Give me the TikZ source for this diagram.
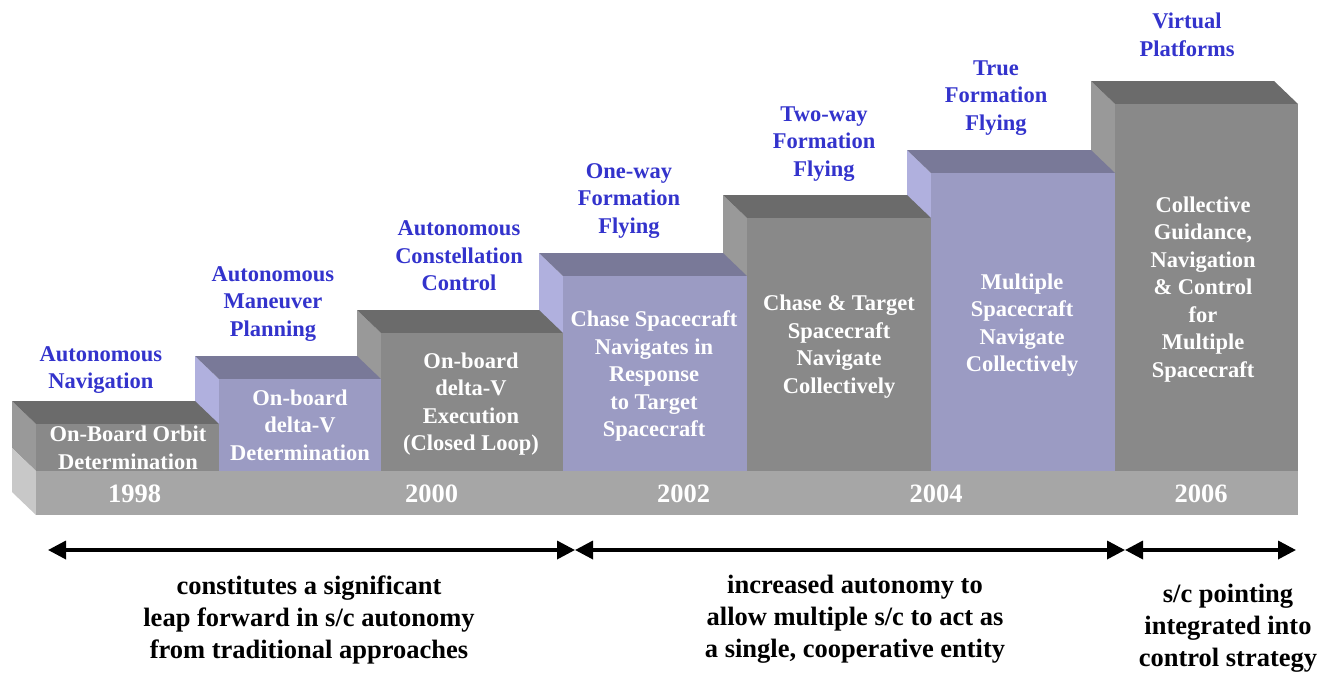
\documentclass[tikz,border=0pt]{standalone}
\usepackage{fontspec}
\setmainfont{Liberation Serif}
\usetikzlibrary{arrows.meta}

\definecolor{grayfront}{RGB}{137,137,137}
\definecolor{graytop}{RGB}{107,107,107}
\definecolor{grayside}{RGB}{153,153,153}
\definecolor{purpfront}{RGB}{155,155,195}
\definecolor{purptop}{RGB}{121,121,152}
\definecolor{purpside}{RGB}{176,176,222}
\definecolor{basefront}{RGB}{166,166,166}
\definecolor{baseside}{RGB}{200,200,200}
\definecolor{labelblue}{RGB}{51,51,204}

% one 3-D step: left x, right x, top y of the front face, then front/top/side colours
\newcommand\stepblock[6]{%
  \fill[#6] (#1-24,#3-23) -- (#1,#3) -- (#1,471) -- (#1-24,448) -- cycle;
  \fill[#5] (#1-24,#3-23) -- (#2-24,#3-23) -- (#2,#3) -- (#1,#3) -- cycle;
  \fill[#4] (#1,#3) rectangle (#2,471);
}

\tikzset{
  milestone/.style={inner sep=0pt, align=center, text=labelblue,
    font=\bfseries\fontsize{22.5}{27.5}\selectfont},
  capability/.style={inner sep=0pt, align=center, text=white,
    font=\bfseries\fontsize{22.5}{27.5}\selectfont},
  yearlabel/.style={inner sep=0pt, text=white,
    font=\bfseries\fontsize{26.5}{32}\selectfont},
  phasenote/.style={inner sep=0pt, align=center, text=black,
    font=\bfseries\fontsize{26.5}{32}\selectfont},
  span/.style={line width=3.5pt,
    {Triangle[length=18pt,width=18pt]}-{Triangle[length=18pt,width=18pt]}}
}

\begin{document}
\begin{tikzpicture}[x=1pt,y=-1pt]
\useasboundingbox (0,0) rectangle (1321,673);

% steps, drawn from the back (right) to the front (left)
\stepblock{1115}{1298}{104}{grayfront}{graytop}{grayside}
\stepblock{931}{1115}{173}{purpfront}{purptop}{purpside}
\stepblock{747}{931}{218}{grayfront}{graytop}{grayside}
\stepblock{563}{747}{276}{purpfront}{purptop}{purpside}
\stepblock{381}{563}{333}{grayfront}{graytop}{grayside}
\stepblock{219}{381}{379}{purpfront}{purptop}{purpside}
\stepblock{36}{219}{424}{grayfront}{graytop}{grayside}

% time base
\fill[baseside] (12,448) -- (36,471) -- (36,515) -- (12,492) -- cycle;
\fill[basefront] (36,471) rectangle (1298,515);

\node[yearlabel] (y1998) at (134.5,494) {1998};
\node[yearlabel] (y2000) at (431.5,494) {2000};
\node[yearlabel] (y2002) at (683.5,494) {2002};
\node[yearlabel] (y2004) at (936,494) {2004};
\node[yearlabel] (y2006) at (1201,494) {2006};

% capabilities on the step fronts
\node[capability] (c1) at (128,448) {On-Board Orbit\\Determination};
\node[capability] (c2) at (300,425) {On-board\\delta-V\\Determination};
\node[capability] (c3) at (471,404) {On-board\\delta-V\\Execution\\(Closed Loop)};
\node[capability] (c4) at (654,376) {Chase Spacecraft\\Navigates in\\Response\\to Target\\Spacecraft};
\node[capability] (c5) at (839,346.5) {Chase \& Target\\Spacecraft\\Navigate\\Collectively};
\node[capability] (c6) at (1022,325) {Multiple\\Spacecraft\\Navigate\\Collectively};
\node[capability] (c7) at (1203,289.5) {Collective\\Guidance,\\Navigation\\\& Control\\for\\Multiple\\Spacecraft};

% milestones above the steps
\node[milestone] (m1) at (101,370) {Autonomous\\Navigation};
\node[milestone] (m2) at (273,304) {Autonomous\\Maneuver\\Planning};
\node[milestone] (m3) at (459,256) {Autonomous\\Constellation\\Control};
\node[milestone] (m4) at (629,201) {One-way\\Formation\\Flying};
\node[milestone] (m5) at (824,144) {Two-way\\Formation\\Flying};
\node[milestone] (m6) at (996,98) {True\\Formation\\Flying};
\node[milestone] (m7) at (1187,35) {Virtual\\Platforms};

% phase spans
\coordinate (p0) at (48,550);
\coordinate (p1) at (575,550);
\coordinate (p2) at (1125,550);
\coordinate (p3) at (1296,550);
\draw[span] (p0) -- (p1);
\draw[span] (p1) -- (p2);
\draw[span] (p2) -- (p3);

\node[phasenote] (n1) at (309,619.5) {constitutes a significant\\leap forward in s/c autonomy\\from traditional approaches};
\node[phasenote] (n2) at (855,619.5) {increased autonomy to\\allow multiple s/c to act as\\a single, cooperative entity};
\node[phasenote] (n3) at (1228,628) {s/c pointing\\integrated into\\control strategy};
\end{tikzpicture}
\end{document}
